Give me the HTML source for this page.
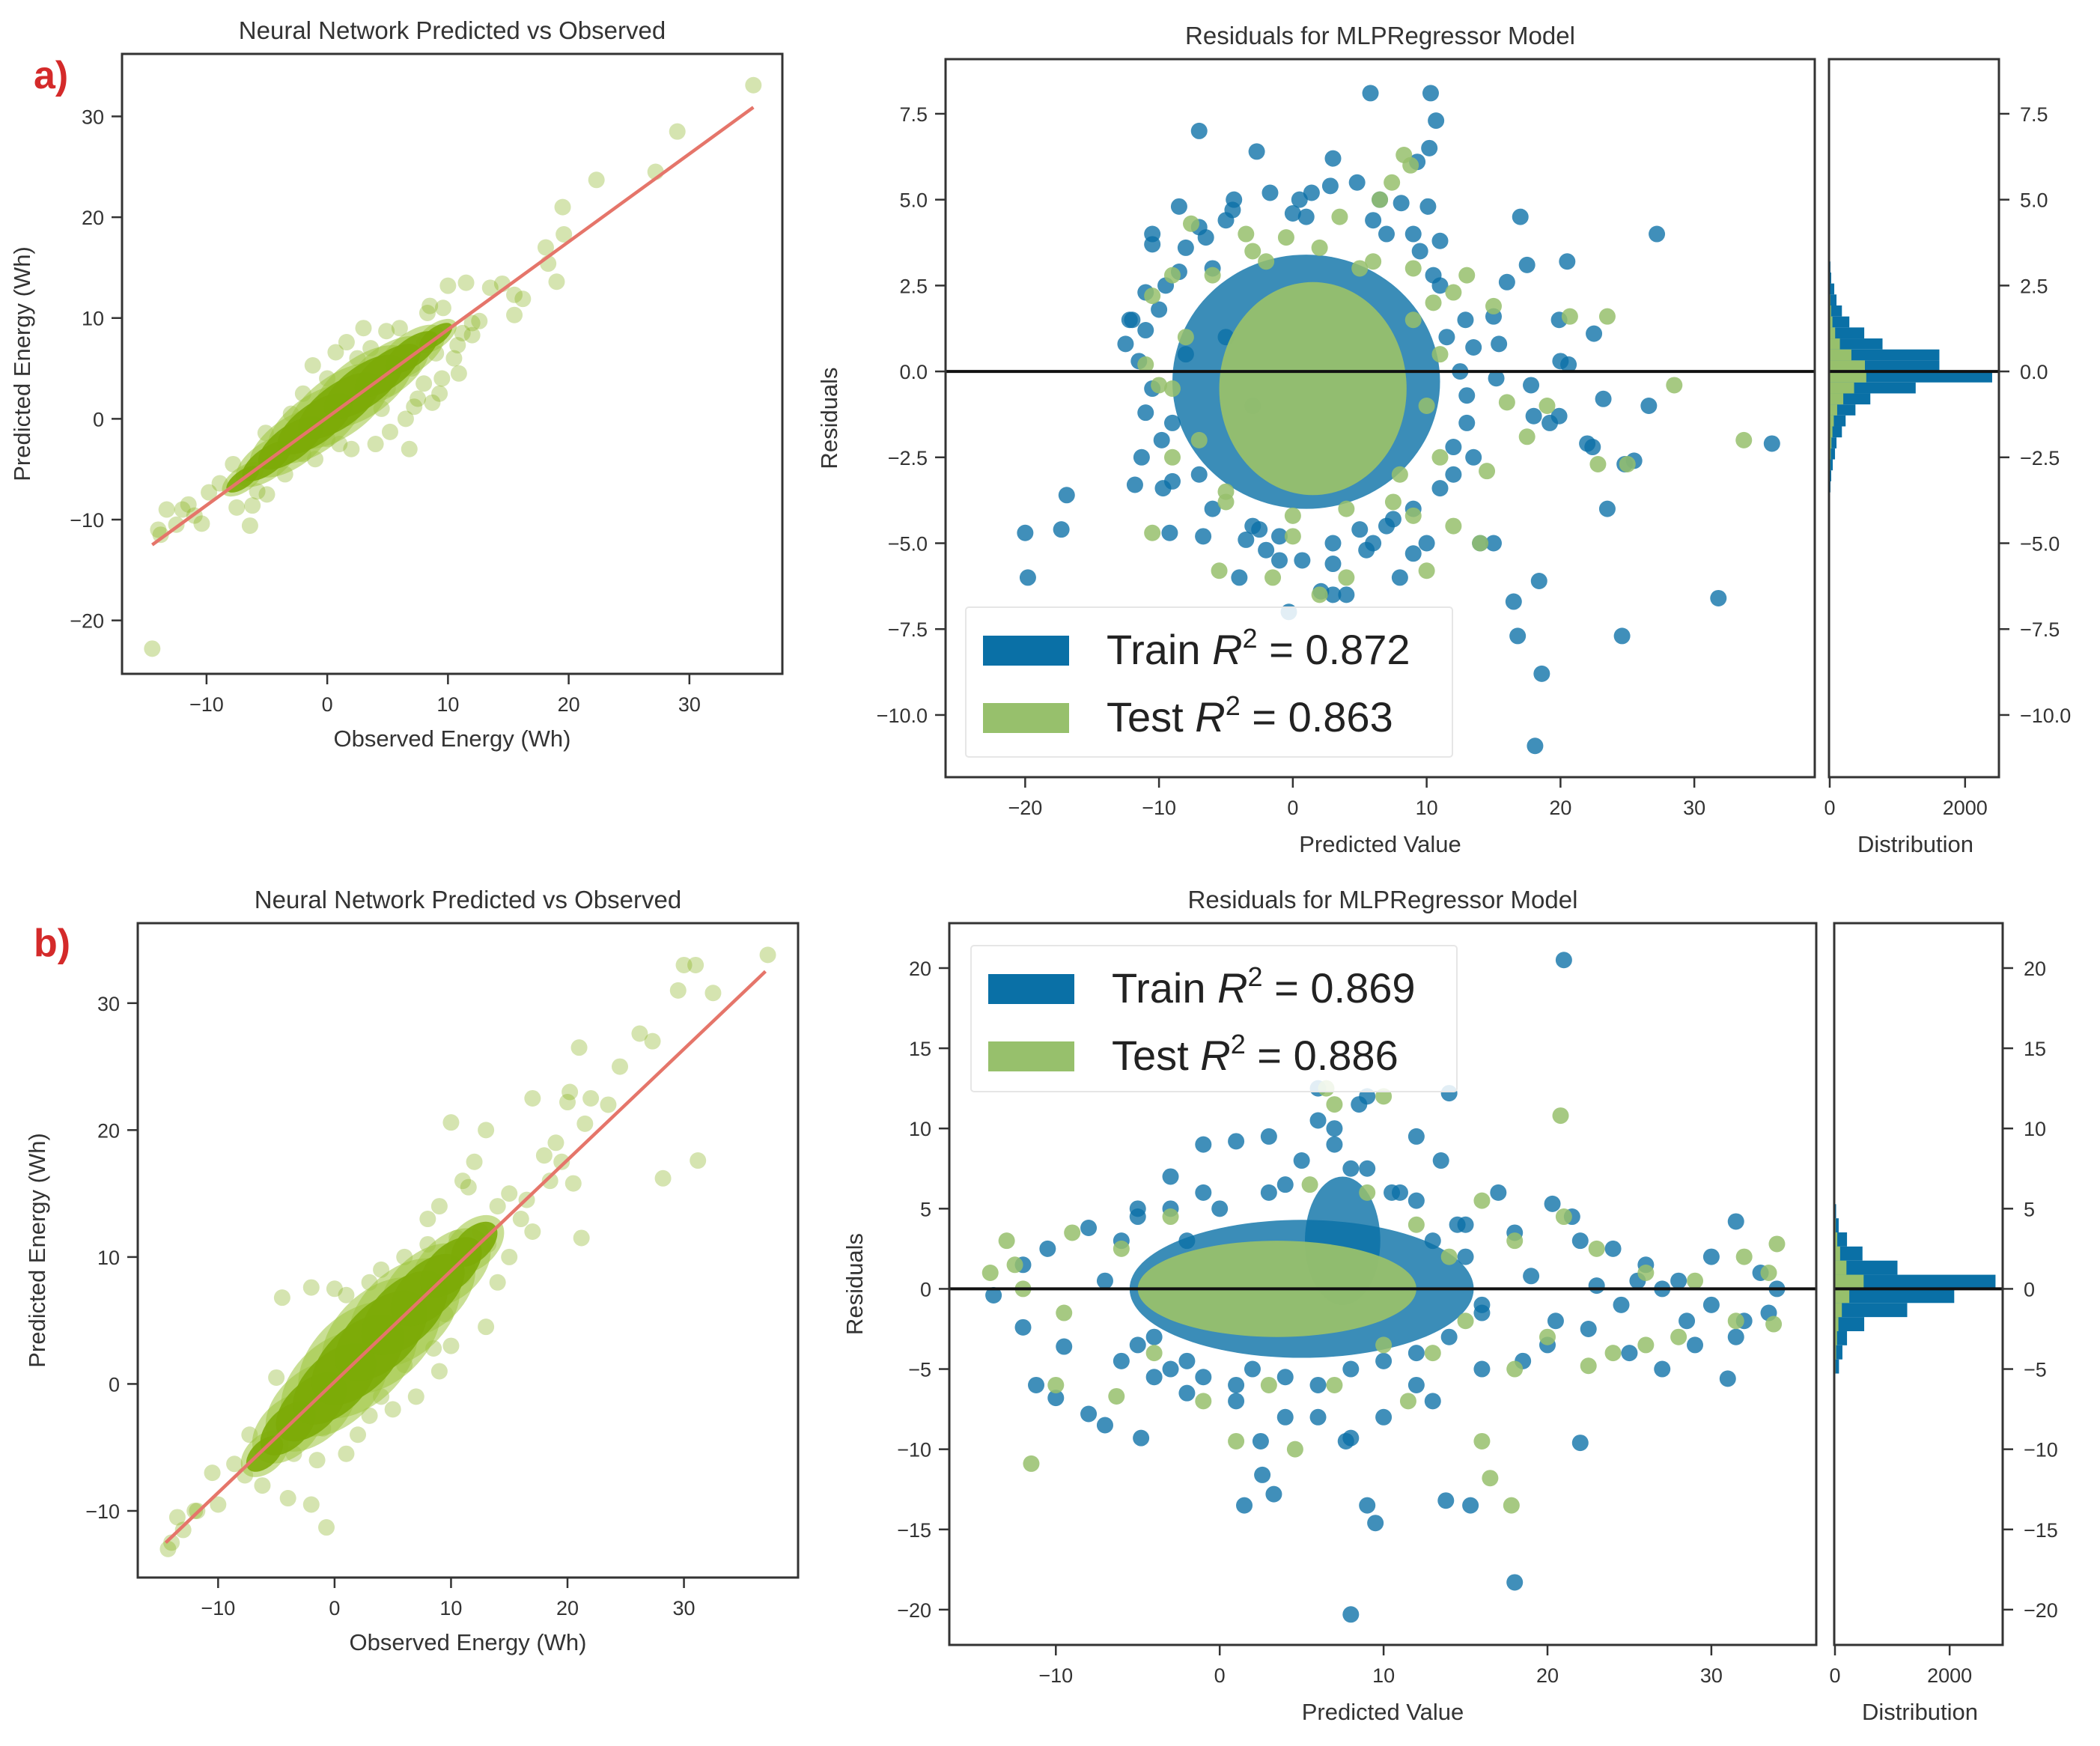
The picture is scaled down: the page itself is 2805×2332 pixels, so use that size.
<!DOCTYPE html>
<html><head><meta charset="utf-8"><style>
html,body{margin:0;padding:0;background:#fff;}
svg{display:block;font-family:"Liberation Sans",sans-serif;}
</style></head><body>
<svg id="fig" width="2805" height="2332" viewBox="0 0 2805 2332" xmlns="http://www.w3.org/2000/svg"></svg>
<script>
// ---------- DATA ----------
const aPredObsX = [35.3,29,27.2,22.3,19.5,19.6,18.1,18.3,19,15.5,16.2,14.5,13.5,11.5,10,12.6,15.5,12,10.8,9.6,8.5,10.9,9.3,7.2,6.8,8.7,4.9,3,1.6,-1.2,0.7,-4,-5.1,-7.8,-8.9,-9.8,-11.5,-13.3,-14,-12,-10.4,-12.5,-7.5,-6.4,-5.8,-5,-6.2,-14.5,-13.8,-11,-6.7,-4.5,2,4,5.2,6.5,7.5,8,9.5,10.5,11.2,12,3.6,2.5,0,-2,-3,-2,0,-1,6,8.3,9,4.5,1,5,7,-3.5];
const aPredObsY = [33.1,28.5,24.5,23.7,21,18.3,17,15.4,13.6,12.3,11.9,13.4,13,13.5,13.2,9.7,10.3,8.3,7.3,11,11.2,4.5,2.5,1.2,-3,1.6,8.7,9,7.6,5.3,6.6,-2.3,-1.4,-4.5,-6.4,-7.3,-8.5,-9,-11,-9,-10.4,-10.5,-8.8,-10.6,-7.2,-7.5,-8.6,-22.8,-11.5,-9.6,-5.5,-3.7,-3,-2.5,-1.3,0,2,3.5,4,6,8.5,9.5,7,6,4,2.5,0.5,-3.5,-2,-4,9,10.5,6.5,1,-2.5,3,5,-5.5];
const aCoreX = [-7,-5,-3,-1,1,3,5,7,9];
const aCoreY = [-6,-4.2,-2.4,-0.5,1.3,3.2,4.8,6.6,8.2];
const aCoreR = [1,1.5,2,2.3,2.5,2.4,2,1.6,1];
const aFit = [-14.5,-12.5,35.3,30.9];
const bPredObsX = [37.2,31,30,32.5,29.5,31.2,28.2,26.2,27.3,24.5,22,20.2,21,20,21.5,17,20.5,19.5,18.5,21.2,10,13,12,11,16,15,14,17,11.5,13.2,9,8,10.5,14,13,10,8.5,3,-4.5,-2,0,1,-5,-7.3,-8.6,-7.7,-6.2,-10.5,-10,-11.8,-13.5,-14,-14.3,-13,-12,-0.7,-1.5,-3.5,-2,-4,5,7,9,6,2,3,-1,1,4,9.5,11,12.5,15,16.5,19,23.5,18,8,6,4];
const bPredObsY = [33.8,33,33,30.8,31,17.6,16.2,27.6,27,25,22.5,23,26.5,22.2,20.5,22.5,15.8,17.5,16,11.5,20.6,20,17.5,16,13,15,14,12,15.5,11,14,13,11.5,8,4.5,3,2.8,8,6.8,7.6,7.5,7,0.5,-4,-6.3,-7.2,-8,-7,-9.5,-10,-10.5,-12.5,-13,-11.5,-10,-11.3,-6,-5.5,-9.5,-9,-2,-1,1,1.5,-4,-2.5,-3.5,-5.5,-1,5.5,8.5,12,10,14.5,19,22,18,11,10,9];
const bCoreX = [-6,-4,-2,0,2,4,6,8,10,12];
const bCoreY = [-5.5,-3.5,-1.8,0,1.9,3.8,5.6,7.4,9.2,11];
const bCoreR = [1.2,1.8,2.3,2.7,3,3,2.8,2.4,2,1.5];
const bFit = [-14.5,-12.5,37,32.5];
const aTrainX = [5.8,10.3,10.7,-7,-2.7,3,10.2,9.3,2.8,4.8,-4.4,-1.7,1.4,6.5,8.1,10.1,-8.5,17,27.2,20.5,17.5,16,-10.5,-10.5,-12.2,-11,-9.5,12.9,15,19.9,22.5,15.4,20,20.6,15.2,17.8,23.2,26.6,18,19.9,19.2,22.4,22,35.8,24.8,25.5,-11.3,-11.8,-9.7,-16.9,-17.3,-20,-19.8,-9.2,-6.7,-3.5,-2.5,0.7,2.1,3,4,8,9,10,14,15,23.5,16.5,18.4,31.8,16.8,24.6,18.6,18.1,-0.3,6,-4,-3,-5,-6,-8,-9,-7,12,11,13,13.5,7,-1,9,11,6,0,
  -12,-11,-10.5,-9.8,-9,-8,-7,-6,-5,-3,-1,1,3,5,7,9,10.5,11.5,12.5,12,11,9.5,7.5,5.5,3,0.5,-2,-4.5,-6.5,-8.5,-10,-11.5,13,13.5,-12.5,-11];
const aTrainY = [8.1,8.1,7.3,7,6.4,6.2,6.5,6.1,5.4,5.5,5,5.2,5.2,5,4.9,4.8,4.8,4.5,4,3.2,3.1,2.6,4,3.7,1.5,1.2,2.5,1.5,1.6,1.5,1.1,0.8,0.3,0.2,-0.2,-0.4,-0.8,-1,-1.3,-1.3,-1.5,-2.2,-2.1,-2.1,-2.7,-2.6,-2.5,-3.3,-3.4,-3.6,-4.6,-4.7,-6,-4.7,-4.8,-4.9,-4.6,-5.5,-6.4,-6.5,-6.5,-6,-5.3,-5,-5,-5,-4,-6.7,-6.1,-6.6,-7.7,-7.7,-8.8,-10.9,-7,-5,-6,-1,1,3,0.5,-1.5,-3,-3,2.5,-1.5,-2.5,-4.5,-5.5,4,3.8,4.4,4.6,
  1.5,2.3,-0.5,-2,-3.2,3.6,4.2,-4,4.4,-4.5,-4.8,4.5,-5,-4.6,4,-4,2.8,1,0,-2.2,-3.4,3.5,-4.3,-5.2,-5.6,5,-5.2,4.7,3.9,2.9,1.8,0.3,-0.7,0.7,0.8,-1.2];
const aTestX = [8.3,8.8,7.4,6.5,-7.6,-3.5,-0.5,-9,-10.5,13,12,15,20.7,23.5,-11,-10,28.5,16,17.5,19,33.7,25,22.8,11,14.5,-10.5,-5.5,-1.5,2,4,10,14,12,-9,-5,7.5,9,0,-2,3.5,5,9,10.5,
  -8,-7,-6,8,9,10,-5,6,-3,4,0,2,-9,11];
const aTestY = [6.3,6,5.5,5,4.3,4,3.9,2.8,2.2,2.8,2.3,1.9,1.6,1.6,0.2,-0.4,-0.4,-0.9,-1.9,-1,-2,-2.7,-2.7,-2.5,-2.9,-4.7,-5.8,-6,-6.5,-6,-5.8,-5,-4.5,-2.5,-3.5,-3.8,-4.2,-4.8,3.2,4.5,3,3,2,
  1,-2,2.8,-3,1.5,-1,-3.8,3.2,3.5,-4,-4.2,3.6,-0.5,0.5];
const aTrainCore = [[1,-0.3,10,3.7]];
const aTestCore = [[1.5,-0.5,7,3.1]];
const aHistEdges0 = -3.52, aHistStep = 0.32;
const aHistTrain = [11,22,45,78,100,180,235,380,600,1270,2400,1620,1620,780,510,290,180,100,67,22,11];
const aHistTest = [2,4,8,15,25,40,60,110,200,360,540,520,320,150,80,40,20,10,5,2,1];
const bTrainX = [21,8,18,1.5,3.3,2.6,9,9.5,13.8,15.3,22,-7,-8,-4.8,-10,-11.2,-9.5,-12,-13.8,-12,-10.5,-8,-5,-3,-1,-1,1,3,6,6,7,9,8.5,14,12,13.5,17,20.3,21.5,18,22,24,26,28,31.5,30,33,34,33.5,31.5,31,27,25,22.5,24.5,28.5,30,27,20.5,18.5,16,13,12,10,8,6,4,1,-2,-4,-6,16,19,23,25.5,29,32,20,15,11,-2,4,8,2.5,7.7,
  -6,-5,-4,-3,-2,0,2,4,6,8,10,12,14,15,16,14.5,12,9,7,5,3,1,-1,-3,-5,-7,10.5,13];
const bTrainY = [20.5,-20.3,-18.3,-13.5,-12.8,-11.6,-13.5,-14.6,-13.2,-13.5,-9.6,-8.5,-7.8,-9.3,-6.8,-6,-3.6,-2.4,-0.4,1.5,2.5,3.8,5,7,6,9,9.2,9.5,10.5,12.5,10,12,11.5,12.2,9.5,8,6,5.3,4.5,3.5,3,2.5,1.5,0.5,4.2,2,1,0,-1.5,-3,-5.6,-5,-4,-2.5,-1,-2,-1,0,-2,-4.5,-5,-7,-6,-8,-9.3,-8,-8,-7,-6.5,-5.5,-4.5,-1.5,0.8,0.2,0.5,-3.5,-2,-3.5,4,6,3,6.5,7.5,-9.5,-9.5,
  3,4.5,-3,5,-4.5,5,-5,-5.5,-6,-5,-4.5,-4,-3,2,-1,4,5.5,7.5,9,8,6,-6,-5.5,-5,-3.5,0.5,6,3];
const bTestX = [20.8,6.5,7,10,-11.5,-10,-13,-12.5,-14,-12,-9,-6.3,-1,1,4.6,11.5,16.5,17.8,16,18,20,22.5,24,26,28,31.5,33.8,33.5,34,32,29,26,23,21,16,18,14,15,13,12,9,5.5,-3,-6,3,7,-4,10,-9.5];
const bTestY = [10.8,12.5,11.5,12,-10.9,-6,3,1.5,1,0,3.5,-6.7,-7,-9.5,-10,-7,-11.8,-13.5,-9.5,-5,-3,-4.8,-4,-3.5,-3,-2,-2.2,1,2.8,2,0.5,1,2.5,4.5,5.5,3,2,-2,-4,4,6,6.5,4.5,2.5,-6,-6,-4,-3.5,-1.5];
const bTrainCore = [[5,0,10.5,4.3],[7.5,3,2.3,4]];
const bTestCore = [[3.5,0,8.5,3]];
const bHistEdges0 = -5.28, bHistStep = 0.88;
const bHistTrain = [70,130,210,510,1260,2080,2800,1090,480,210,65,20];
const bHistTest = [10,20,35,60,120,250,500,200,90,40,12,4];
const aLeftXTicks = [-10,0,10,20,30], aLeftYTicks = [-20,-10,0,10,20,30];
const bLeftXTicks = [-10,0,10,20,30], bLeftYTicks = [-10,0,10,20,30];
const aResXTicks = [-20,-10,0,10,20,30], aResYTicks = [-10,-7.5,-5,-2.5,0,2.5,5,7.5];
const bResXTicks = [-10,0,10,20,30], bResYTicks = [-20,-15,-10,-5,0,5,10,15,20];
const histXTicks = [0,2000];

// ---------- RENDER ----------
const NS = "http://www.w3.org/2000/svg";
const svg = document.getElementById('fig');
function mk(tag, attrs, parent, text){
  const e = document.createElementNS(NS, tag);
  for (const k in attrs) e.setAttribute(k, attrs[k]);
  if (text !== undefined) e.textContent = text;
  (parent || svg).appendChild(e);
  return e;
}
function scale(d0,d1,p0,p1){ return v => p0 + (v-d0)/(d1-d0)*(p1-p0); }
const TC = "#333";
function fmt(v, dec){ const s = v.toFixed(dec); return s.replace('-', '\u2212'); }

function axesBox(g, L,T,R,B){
  const r = mk('rect',{x:L,y:T,width:R-L,height:B-T,fill:'none',stroke:'#333','stroke-width':3},g);
  
  
}
function xTicks(g, ticks, sx, B, dec){
  ticks.forEach(t=>{
    const x = sx(t);
    const l = mk('line',{x1:x,y1:B,x2:x,y2:B+14,stroke:'#333','stroke-width':2.5},g);
    
    
    const tx = mk('text',{x:x,y:B+50,'font-size':27,fill:TC,'text-anchor':'middle'},g,fmt(t,dec));
    
    
  });
}
function yTicks(g, ticks, sy, L, dec, right){
  ticks.forEach(t=>{
    const y = sy(t);
    const x2 = right ? L+14 : L-14;
    const l = mk('line',{x1:L,y1:y,x2:x2,y2:y,stroke:'#333','stroke-width':2.5},g);
    
    
    const tx = mk('text',{x: right? L+28 : L-24, y:y+10,'font-size':27,fill:TC,'text-anchor': right?'start':'end'},g,fmt(t,dec));
    
    
  });
}
function label(g, txt, x, y, rot, size, name){
  const a = {x:x,y:y,'font-size':size||30,fill:TC,'text-anchor':'middle'};
  if (rot) a.transform = `rotate(-90 ${x} ${y})`;
  const t = mk('text',a,g,txt);
  
  
}

function predObs(o){
  const g = mk('g',{});
  
  
  const sx = scale(o.xd[0],o.xd[1],o.L,o.R), sy = scale(o.yd[0],o.yd[1],o.B,o.T);
  const cp = mk('clipPath',{id:o.name+'-clip'},g);
  mk('rect',{x:o.L,y:o.T,width:o.R-o.L,height:o.B-o.T},cp);
  const pg = mk('g',{'clip-path':`url(#${o.name}-clip)`},g);
  
  
  const kx = Math.abs(sx(1)-sx(0)), ky = Math.abs(sy(1)-sy(0));
  const ang = Math.atan2(sy(o.fit[3])-sy(o.fit[1]), sx(o.fit[2])-sx(o.fit[0]))*180/Math.PI;
  o.px.forEach((x,i)=>{
    const c = mk('circle',{cx:sx(x),cy:sy(o.py[i]),r:11,fill:'#7fad10','fill-opacity':0.33},pg);
    
    
  });
  o.cx.forEach((c,i)=>{
    const X = sx(c), Y = sy(o.cy[i]);
    const e1 = mk('ellipse',{cx:X,cy:Y,rx:o.cr[i]*kx*2.0,ry:o.cr[i]*ky*1.2,fill:'#9cc43c',opacity:0.55,transform:`rotate(${ang} ${X} ${Y})`},pg);
    
    
  });
  o.cx.forEach((c,i)=>{
    const X = sx(c), Y = sy(o.cy[i]);
    const e = mk('ellipse',{cx:X,cy:Y,rx:o.cr[i]*kx*1.6,ry:o.cr[i]*ky*0.85,fill:'#7cab08',opacity:0.9,transform:`rotate(${ang} ${X} ${Y})`},pg);
    
    
  });
  const ln = mk('line',{x1:sx(o.fit[0]),y1:sy(o.fit[1]),x2:sx(o.fit[2]),y2:sy(o.fit[3]),stroke:'#e5756a','stroke-width':4.5},pg);
  
  
  axesBox(g,o.L,o.T,o.R,o.B);
  xTicks(g,o.xt,sx,o.B,0);
  yTicks(g,o.yt,sy,o.L,0,false);
  label(g,'Neural Network Predicted vs Observed',(o.L+o.R)/2,o.T-20,false,33,'chart-title');
  label(g,'Observed Energy (Wh)',(o.L+o.R)/2,o.B+97,false,31,'x-axis-title');
  label(g,'Predicted Energy (Wh)',o.ylx,(o.T+o.B)/2,true,31,'y-axis-title');
}

function resid(o){
  const g = mk('g',{});
  
  
  const sx = scale(o.xd[0],o.xd[1],o.L,o.R), sy = scale(o.yd[0],o.yd[1],o.B,o.T);
  const kx = Math.abs(sx(1)-sx(0)), ky = Math.abs(sy(1)-sy(0));
  const cp = mk('clipPath',{id:o.name+'-clip'},g);
  mk('rect',{x:o.L,y:o.T,width:o.R-o.L,height:o.B-o.T},cp);
  const pg = mk('g',{'clip-path':`url(#${o.name}-clip)`},g);
  o.trainCore.forEach(c=>{
    const e = mk('ellipse',{cx:sx(c[0]),cy:sy(c[1]),rx:c[2]*kx,ry:c[3]*ky,fill:'#0a70a6',opacity:0.8},pg);
    
    
  });
  o.trX.forEach((x,i)=>{
    const c = mk('circle',{cx:sx(x),cy:sy(o.trY[i]),r:11,fill:'#0a70a6','fill-opacity':0.78},pg);
    
    
  });
  o.testCore.forEach(c=>{
    const e = mk('ellipse',{cx:sx(c[0]),cy:sy(c[1]),rx:c[2]*kx,ry:c[3]*ky,fill:'#97c06c',opacity:0.95},pg);
    
    
  });
  o.teX.forEach((x,i)=>{
    const c = mk('circle',{cx:sx(x),cy:sy(o.teY[i]),r:11,fill:'#97c06c','fill-opacity':0.85},pg);
    
    
  });
  const zl = mk('line',{x1:o.L,y1:sy(0),x2:o.R,y2:sy(0),stroke:'#111','stroke-width':4},g);
  
  
  axesBox(g,o.L,o.T,o.R,o.B);
  xTicks(g,o.xt,sx,o.B,0);
  yTicks(g,o.yt,sy,o.L,o.dec,false);
  label(g,'Residuals for MLPRegressor Model',(o.L+o.R)/2,o.T-20,false,33,'chart-title');
  label(g,'Predicted Value',(o.L+o.R)/2,o.B+100,false,31,'x-axis-title');
  label(g,'Residuals',o.ylx,(o.T+o.B)/2,true,31,'y-axis-title');
  const lg = mk('g',{},g);
  
  
  const lb = o.leg;
  mk('rect',{x:lb[0],y:lb[1],width:lb[2]-lb[0],height:lb[3]-lb[1],fill:'#fff','fill-opacity':0.85,stroke:'#e6e6e6','stroke-width':2,rx:4},lg);
  [['Train','#0a70a6',o.r2[0]],['Test','#97c06c',o.r2[1]]].forEach((e,i)=>{
    const y0 = lb[1]+38+i*90;
    const eg = mk('g',{},lg);
    
    
    mk('rect',{x:lb[0]+23,y:y0,width:115,height:40,fill:e[1]},eg);
    const t = mk('text',{x:lb[0]+188,y:y0+38,'font-size':56,fill:'#222','font-family':'"Liberation Sans Narrow","Liberation Sans",sans-serif'},eg);
    mk('tspan',{},t,e[0]+' ');
    mk('tspan',{'font-style':'italic'},t,'R');
    mk('tspan',{dy:-22,'font-size':36},t,'2');
    mk('tspan',{dy:22},t,' = '+e[2]);
  });
  const hg = mk('g',{});
  
  
  const hx = scale(o.hxd[0],o.hxd[1],o.HL,o.HR);
  const drawBars = (arr,col,nm)=>{
    arr.forEach((c,i)=>{
      const y1 = sy(o.h0+i*o.hs), y2 = sy(o.h0+(i+1)*o.hs);
      const r = mk('rect',{x:hx(0),y:y2,width:hx(c)-hx(0),height:y1-y2,fill:col},hg);
      
      
    });
  };
  drawBars(o.hTr,'#0a70a6','hist-bar-train');
  drawBars(o.hTe,'#97c06c','hist-bar-test');
  const hz = mk('line',{x1:o.HL,y1:sy(0),x2:o.HR,y2:sy(0),stroke:'#111','stroke-width':4},hg);
  
  
  axesBox(hg,o.HL,o.T,o.HR,o.B);
  xTicks(hg,histXTicks,hx,o.B,0);
  yTicks(hg,o.yt,sy,o.HR,o.dec,true);
  label(hg,'Distribution',(o.HL+o.HR)/2+2,o.B+100,false,31,'hist-x-axis-title');
}

predObs({name:'panel-a-pred-vs-obs',L:163,T:72,R:1045,B:900,xd:[-17,37.7],yd:[-25.3,36.2],px:aPredObsX,py:aPredObsY,cx:aCoreX,cy:aCoreY,cr:aCoreR,fit:aFit,xt:aLeftXTicks,yt:aLeftYTicks,ylx:40});
predObs({name:'panel-b-pred-vs-obs',L:184,T:1233,R:1066,B:2107,xd:[-16.9,39.8],yd:[-15.25,36.3],px:bPredObsX,py:bPredObsY,cx:bCoreX,cy:bCoreY,cr:bCoreR,fit:bFit,xt:bLeftXTicks,yt:bLeftYTicks,ylx:60});
resid({name:'panel-a-residuals',L:1263,T:79,R:2424,B:1038,xd:[-25.95,39],yd:[-11.81,9.09],trX:aTrainX,trY:aTrainY,teX:aTestX,teY:aTestY,trainCore:aTrainCore,testCore:aTestCore,xt:aResXTicks,yt:aResYTicks,dec:1,ylx:1118,leg:[1290,811,1940,1011],r2:['0.872','0.863'],HL:2443,HR:2670,hxd:[-11,2500],h0:aHistEdges0,hs:aHistStep,hTr:aHistTrain,hTe:aHistTest});
resid({name:'panel-b-residuals',L:1268,T:1233,R:2426,B:2197,xd:[-16.5,36.4],yd:[-22.2,22.8],trX:bTrainX,trY:bTrainY,teX:bTestX,teY:bTestY,trainCore:bTrainCore,testCore:bTestCore,xt:bResXTicks,yt:bResYTicks,dec:0,ylx:1152,leg:[1297,1263,1946,1458],r2:['0.869','0.886'],HL:2450,HR:2675,hxd:[-13,2925],h0:bHistEdges0,hs:bHistStep,hTr:bHistTrain,hTe:bHistTest});

const pa = mk('text',{x:45,y:118,'font-size':52,'font-weight':'bold',fill:'#d42a2a'},svg,'a)');


const pb = mk('text',{x:45,y:1277,'font-size':52,'font-weight':'bold',fill:'#d42a2a'},svg,'b)');


</script>
</body></html>
